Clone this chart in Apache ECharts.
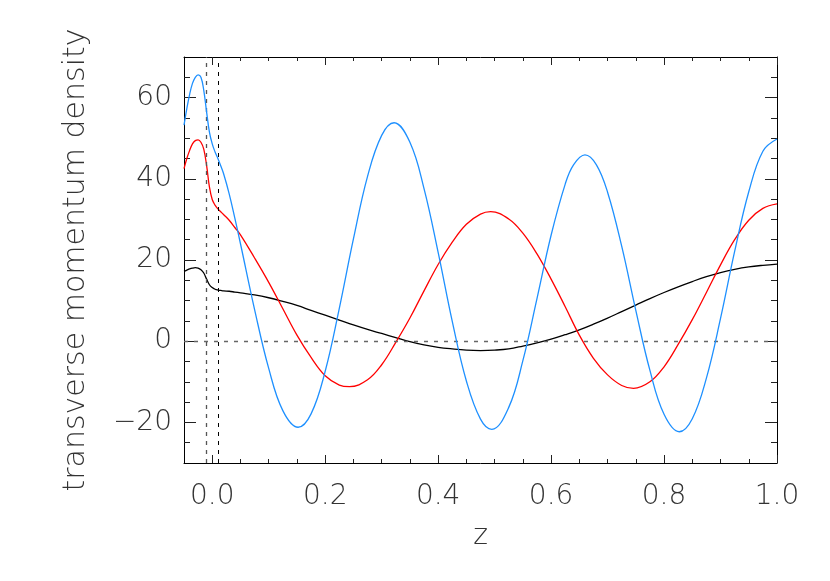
<!DOCTYPE html>
<html><head><meta charset="utf-8">
<script src="https://cdn.jsdelivr.net/npm/echarts@6/dist/echarts.min.js"></script>
<style>html,body{margin:0;padding:0;background:#fff}#c{width:830px;height:581px}</style>
</head><body><div id="c"></div>
<script>
const blackZ = [-0.05,-0.045,-0.04,-0.035,-0.03,-0.025,-0.02,-0.015,-0.01,-0.005,0,0.005,0.01,0.015,0.02,0.03,0.04,0.05,
  0.075,0.1,0.125,0.15,0.175,0.2,0.225,0.25,0.275,0.3,0.325,0.35,0.375,0.4,0.425,0.45,0.475,0.5,
  0.525,0.55,0.575,0.6,0.625,0.65,0.675,0.7,0.725,0.75,0.775,0.8,0.825,0.85,0.875,0.9,0.925,0.95,0.975,1.0];
const blackValues = [17.2,17.5,17.8,18.0,18.1,18.0,17.6,16.8,15.3,13.9,13.2,12.8,12.6,12.5,12.4,12.3,12.1,11.9,
  11.4,10.7,9.8,8.8,7.6,6.4,5.2,4.0,2.9,1.9,0.9,-0.1,-0.9,-1.5,-1.9,-2.2,-2.3,-2.2,
  -1.9,-1.2,-0.4,0.5,1.6,2.8,4.2,5.7,7.3,8.9,10.5,12.0,13.4,14.7,15.9,16.9,17.7,18.3,18.7,19.0];
const blueZ = [-0.05,-0.045,-0.04,-0.035,-0.03,-0.025,-0.02,-0.015,-0.01,-0.005,0,0.005,0.01,0.015,0.02,0.03,0.04,0.05,
  0.075,0.1,0.125,0.152,0.175,0.2,0.225,0.25,0.275,0.3,0.322,0.35,0.375,0.4,0.425,0.45,0.475,0.495,
  0.525,0.55,0.575,0.6,0.625,0.64,0.66,0.68,0.7,0.725,0.75,0.775,0.8,0.827,0.85,0.875,0.9,0.925,0.95,0.975,1.0];
const blueValues = [53.2,57.3,60.8,63.5,65.0,65.6,65.0,61.8,56.5,51.5,48.6,46.6,45.0,43.2,41.3,36.3,30.3,24.0,
  7.8,-6.7,-17.1,-21.2,-17.9,-7.4,8.1,25.2,40.6,50.7,53.8,49.0,37.6,21.9,4.9,-9.8,-19.2,-21.7,
  -16.3,-4.8,10.5,26.1,38.7,43.5,45.9,43.5,36.7,23.4,7.6,-7.2,-18.0,-22.3,-19.1,-9.1,5.6,22.1,36.8,46.8,49.8];
const redZ = [-0.05,-0.045,-0.04,-0.035,-0.03,-0.025,-0.02,-0.015,-0.01,-0.005,0,0.005,0.01,0.015,0.02,0.03,0.04,0.05,
  0.075,0.1,0.125,0.15,0.175,0.2,0.225,0.243,0.275,0.3,0.325,0.35,0.375,0.4,0.425,0.45,0.475,0.493,
  0.525,0.55,0.575,0.6,0.625,0.65,0.675,0.7,0.725,0.746,0.775,0.8,0.825,0.85,0.875,0.9,0.925,0.95,0.975,1.0];
const redValues = [42.5,45.0,47.0,48.6,49.4,49.6,49.0,47.3,43.3,38.0,34.9,33.5,32.6,31.9,31.2,29.8,28.0,26.2,
  20.5,14.5,8.0,1.5,-4.0,-8.5,-10.8,-11.2,-9.5,-5.8,-0.3,5.7,12.4,18.9,24.4,28.8,31.3,31.9,
  30.1,26.6,21.5,15.3,8.5,1.5,-4.2,-8.3,-10.9,-11.6,-10.0,-6.3,-0.8,5.3,12.0,18.8,25.0,29.8,32.7,33.8];
const xMajorTicks = [0, 0.2, 0.4, 0.6, 0.8, 1.0];
const xMinorTicks = [0.05,0.1,0.15,0.25,0.3,0.35,0.45,0.5,0.55,0.65,0.7,0.75,0.85,0.9,0.95];
const yMajorTicks = [-20, 0, 20, 40, 60];
const yMinorTicks = [-25,-15,-10,-5,5,10,15,25,30,35,45,50,55,65];
const zeroLevel = [0];
const markerZ = [-0.01, 0.01];
const xTitle = 'z';
const yTitle = 'transverse momentum density';

const FONT = 'DejaVu Sans';
const TXT = '#333';
const xr = {min: -0.05, max: 1.0};
const yr = {min: -30, max: 70};

function xAxisDef(pos, major, showLabel) {
  return Object.assign({
    type: 'value', position: pos, ...xr,
    axisLine: {show: major, onZero: false, lineStyle: {color: '#000', width: 1}},
    axisTick: {show: true, inside: true, length: major ? 8 : 4,
      customValues: major ? xMajorTicks : xMinorTicks, lineStyle: {color: '#222', width: 1}},
    axisLabel: {show: showLabel, customValues: xMajorTicks, margin: 20,
      formatter: v => v.toFixed(1), fontFamily: FONT, fontSize: 28, fontWeight: 200, color: TXT},
    splitLine: {show: false}
  }, showLabel ? {name: xTitle, nameLocation: 'middle', nameGap: 60,
    nameTextStyle: {fontFamily: FONT, fontSize: 28, fontWeight: 200, color: TXT}} : {});
}
function yAxisDef(pos, major, showLabel) {
  return Object.assign({
    type: 'value', position: pos, ...yr,
    axisLine: {show: major, onZero: false, lineStyle: {color: '#000', width: 1}},
    axisTick: {show: true, inside: true, length: major ? 12 : 6,
      customValues: major ? yMajorTicks : yMinorTicks, lineStyle: {color: '#222', width: 1}},
    axisLabel: {show: showLabel, customValues: yMajorTicks, margin: 12,
      formatter: v => String(v).replace('-', '\u2212'), fontFamily: FONT, fontSize: 28, fontWeight: 200, color: TXT},
    splitLine: {show: false}
  }, showLabel ? {name: yTitle, nameLocation: 'middle', nameGap: 93,
    nameTextStyle: {fontFamily: FONT, fontSize: 30, fontWeight: 200, color: TXT}} : {});
}

const chart = echarts.init(document.getElementById('c'), null, {renderer: 'canvas'});
const mk = (zs, arr) => zs.map((z, i) => [z, arr[i]]);
chart.setOption({
  animation: false,
  backgroundColor: '#fff',
  grid: {left: 184, top: 57, width: 593, height: 406},
  xAxis: [xAxisDef('bottom', true, true), xAxisDef('bottom', false, false),
          xAxisDef('top', true, false), xAxisDef('top', false, false)],
  yAxis: [yAxisDef('left', true, true), yAxisDef('left', false, false),
          yAxisDef('right', true, false), yAxisDef('right', false, false)],
  series: [
    {type: 'line', data: mk(blackZ, blackValues), smooth: 0.4, showSymbol: false,
     lineStyle: {color: '#000', width: 1.3}, z: 3,
     markLine: {silent: true, symbol: 'none', label: {show: false}, animation: false,
       data: [
         {yAxis: zeroLevel[0], lineStyle: {color: '#666', type: [4, 6], width: 1.3}},
         {xAxis: markerZ[0], lineStyle: {color: '#555', type: [4, 5], width: 1.3}},
         {xAxis: markerZ[1], lineStyle: {color: '#000', type: [4, 5], width: 1}}
       ]}},
    {type: 'line', data: mk(redZ, redValues), smooth: 0.4, showSymbol: false,
     lineStyle: {color: '#ff0000', width: 1.3}, z: 4},
    {type: 'line', data: mk(blueZ, blueValues), smooth: 0.4, showSymbol: false,
     lineStyle: {color: '#1e90ff', width: 1.3}, z: 5}
  ]
});
</script></body></html>
